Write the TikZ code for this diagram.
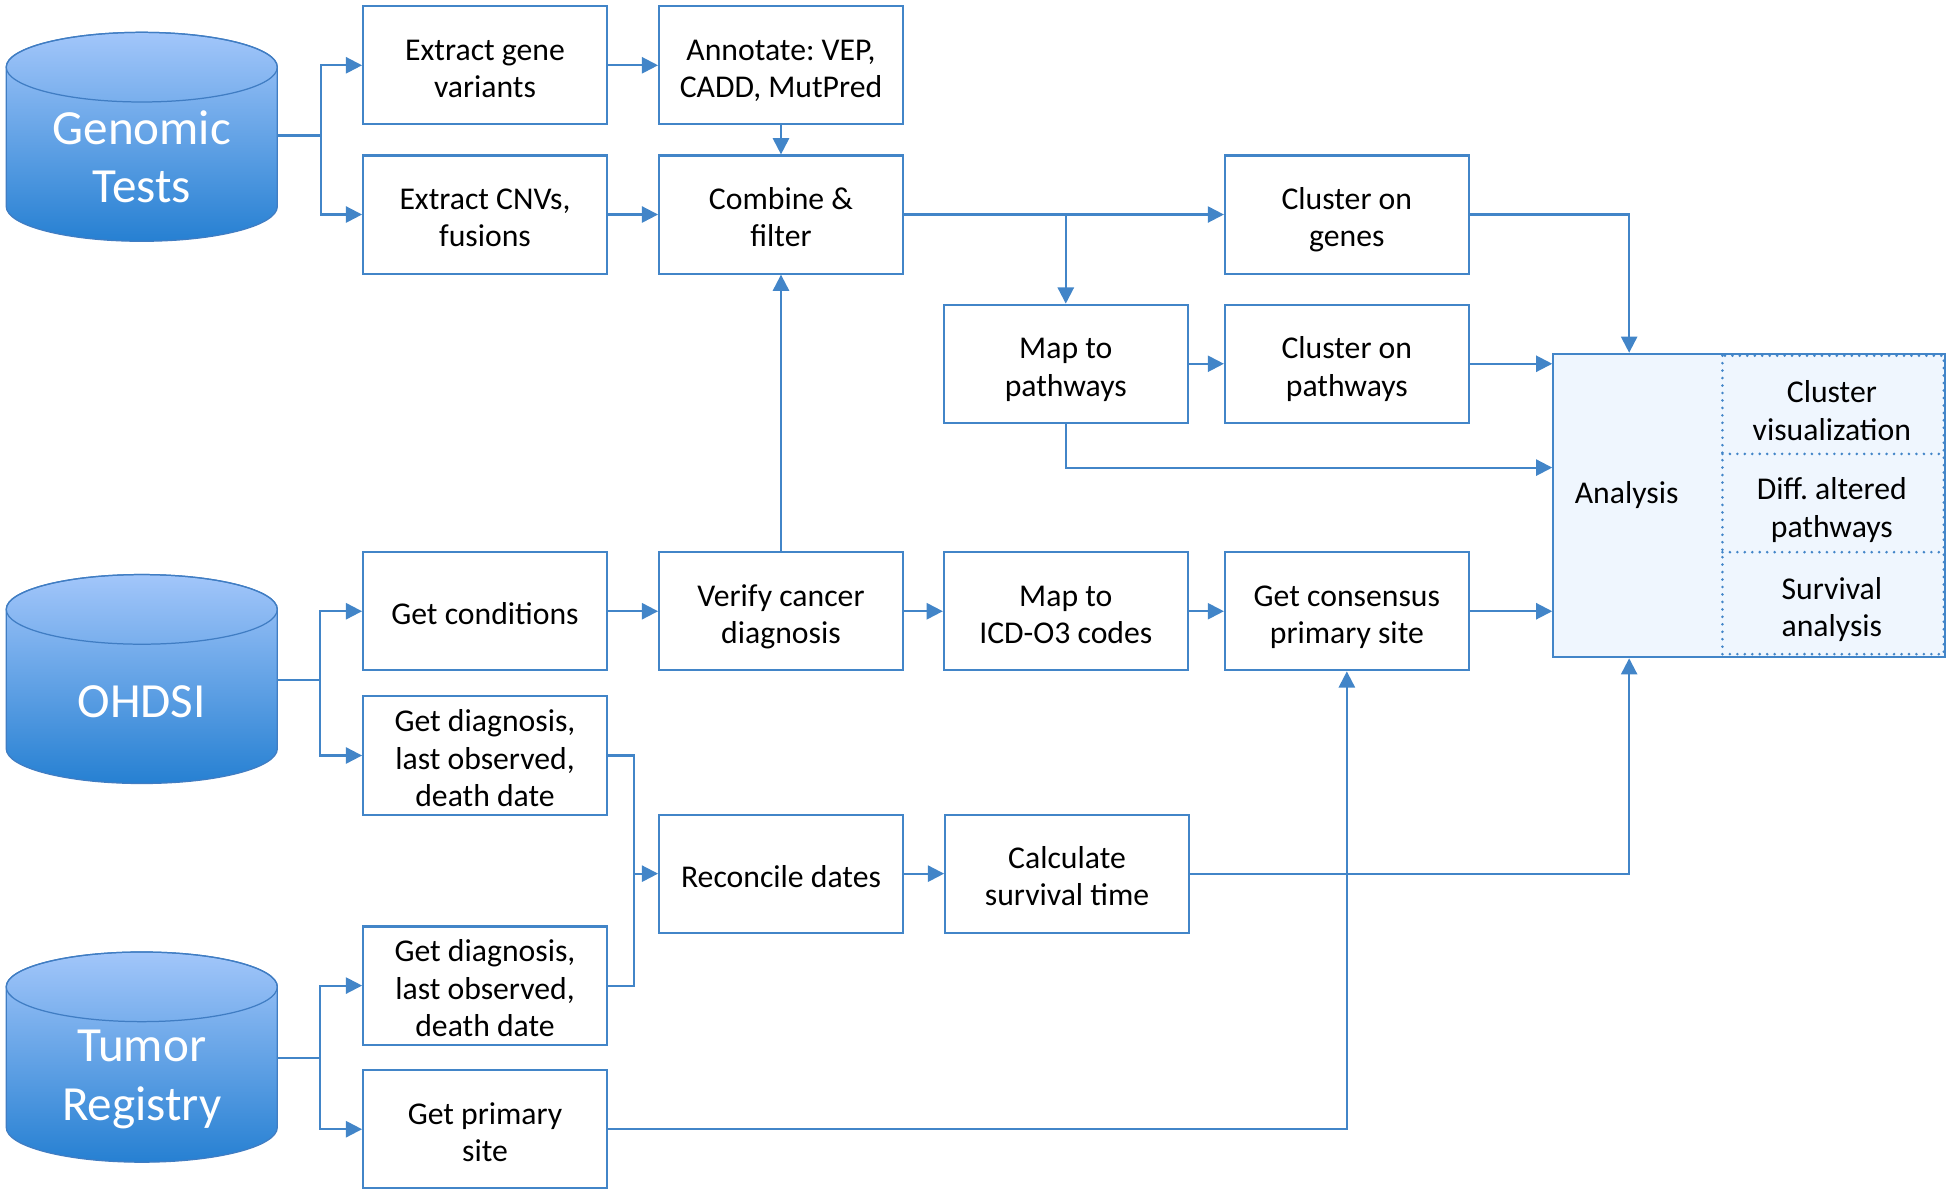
\documentclass[tikz,border=0pt]{standalone}
\usepackage{fontspec}
\setmainfont{Carlito}
\frenchspacing
\usetikzlibrary{arrows.meta,calc}
\definecolor{lblue}{RGB}{66,133,200}
\definecolor{cyltop}{RGB}{162,198,250}
\definecolor{cylbot}{RGB}{38,128,210}
\definecolor{cylline}{RGB}{64,125,195}
\definecolor{afill}{RGB}{239,246,254}
\newcommand\mycylinder[3]{%
  \shadedraw[top color=cyltop, bottom color=cylbot, draw=cylline, line width=1pt]
  (#1-109,#2) -- (#1-109,#3)
  .. controls (#1-109,#3+15.5) and (#1-60.2,#3+28) .. (#1,#3+28)
  .. controls (#1+60.2,#3+28) and (#1+109,#3+15.5) .. (#1+109,#3)
  -- (#1+109,#2)
  .. controls (#1+109,#2-15.5) and (#1+60.2,#2-28) .. (#1,#2-28)
  .. controls (#1-60.2,#2-28) and (#1-109,#2-15.5) .. (#1-109,#2) -- cycle;
  \draw[draw=cylline, line width=1pt] (#1,#2) ellipse (109 and 28);
}
\newcommand\bt[1]{\raisebox{-5pt}[\height][\depth]{\begin{tabular}{@{}c@{}}#1\end{tabular}}}
\tikzset{
  box/.style={draw=lblue, line width=1.7pt, fill=white, minimum width=196pt,
    minimum height=95pt, align=center, font=\fontsize{25.5}{30}\selectfont, inner sep=2pt},
  cyltext/.style={text=white, align=center, font=\fontsize{39.5}{47}\selectfont},
  lbl/.style={align=center, font=\fontsize{25.5}{30}\selectfont},
  arr/.style={draw=lblue, line width=1.7pt, -{Triangle[length=13pt,width=13pt]}},
  ln/.style={draw=lblue, line width=1.7pt},
  dotl/.style={lblue, line width=2.3pt, line cap=round, dash pattern=on 0pt off 6pt},
}
\begin{document}
\begin{tikzpicture}[x=1pt,y=-1pt]
\useasboundingbox (0,0) rectangle (1568,961);

% cylinders
\mycylinder{114}{54}{166}
\mycylinder{114}{490}{602}
\mycylinder{114}{793.5}{906.5}
\node[cyltext] (gt) at (114,126) {Genomic\\Tests};
\node[cyltext] (oh) at (114,564) {OHDSI};
\node[cyltext] (tr) at (114,868) {Tumor\\Registry};
\coordinate (gtE) at (223,109);
\coordinate (ohE) at (223,547);
\coordinate (trE) at (223,851);

% boxes
\node[box] (eg) at (390,52.5) {\bt{Extract gene\\variants}};
\node[box] (an) at (628,52.5) {\bt{Annotate: VEP,\\CADD, MutPred}};
\node[box] (ec) at (390,172.5) {\bt{Extract CNVs,\\fusions}};
\node[box] (cf) at (628,172.5) {\bt{Combine \&\\filter}};
\node[box] (cg) at (1083,172.5) {\bt{Cluster on\\genes}};
\node[box] (mp) at (857,292.5) {\bt{Map to\\pathways}};
\node[box] (cp) at (1083,292.5) {\bt{Cluster on\\pathways}};
\node[box] (gc) at (390,491.5) {\bt{Get conditions}};
\node[box] (vc) at (628,491.5) {\bt{Verify cancer\\diagnosis}};
\node[box] (mi) at (857,491.5) {\bt{Map to\\ICD-O3 codes}};
\node[box] (gs) at (1083,491.5) {\bt{Get consensus\\primary site}};
\node[box] (gd1) at (390,607.5) {\bt{Get diagnosis,\\last observed,\\death date}};
\node[box] (rd) at (628,702.5) {\bt{Reconcile dates}};
\node[box] (cs) at (858,702.5) {\bt{Calculate\\survival time}};
\node[box] (gd2) at (390,792.5) {\bt{Get diagnosis,\\last observed,\\death date}};
\node[box] (gp) at (390,908) {\bt{Get primary\\site}};

% analysis
\node[draw=lblue, line width=1.7pt, fill=afill, minimum width=315pt, minimum height=244pt, inner sep=0pt] (analysis) at (1406.5,406.5) {};
\draw[dotl] (1385,286) rectangle (1563,526);
\draw[dotl] (1385,365) -- (1563,365);
\draw[dotl] (1385,444) -- (1563,444);
\node[lbl] (alab) at (1308,394) {\bt{Analysis}};
\node[lbl] (a1) at (1473,328) {\bt{Cluster\\visualization}};
\node[lbl] (a2) at (1473,406) {\bt{Diff. altered\\pathways}};
\node[lbl] (a3) at (1473,486) {\bt{Survival\\analysis}};
\coordinate (ax) at (1310,0);
\coordinate (y376) at (0,376);

% connectors: sources
\draw[arr] (gtE) -- (258,109) |- (eg.west);
\draw[arr] (gtE) -- (258,109) |- (ec.west);
\draw[arr] (ohE) -- (257,547) |- (gc.west);
\draw[arr] (ohE) -- (257,547) |- (gd1.west);
\draw[arr] (trE) -- (257,851) |- (gd2.west);
\draw[arr] (trE) -- (257,851) |- (gp.west);

% genomic flow
\draw[arr] (eg) -- (an);
\draw[arr] (an) -- (cf);
\draw[arr] (ec) -- (cf);
\draw[arr] (cf) -- (cg);
\draw[arr] (cf.east -| mp.north) -- (mp.north);
\draw[arr] (mp) -- (cp);
\draw[arr] (mp.south) |- (analysis.west |- y376);
\draw[arr] (cg.east) -| (analysis.north -| ax);
\draw[arr] (cp.east) -- (cp.east -| analysis.west);

% clinical flow
\draw[arr] (gc) -- (vc);
\draw[arr] (vc) -- (cf);
\draw[arr] (vc) -- (mi);
\draw[arr] (mi) -- (gs);
\draw[arr] (gs.east) -- (gs.east -| analysis.west);
\draw[ln] (gd1.east) -- ++(21,0) coordinate (bj) |- (gd2.east);
\draw[arr] (bj |- rd.west) -- (rd.west);
\draw[arr] (rd) -- (cs);
\draw[arr] (cs.east) -| (analysis.south -| ax);
\draw[arr] (gp.east) -| (gs.south);
\end{tikzpicture}
\end{document}
